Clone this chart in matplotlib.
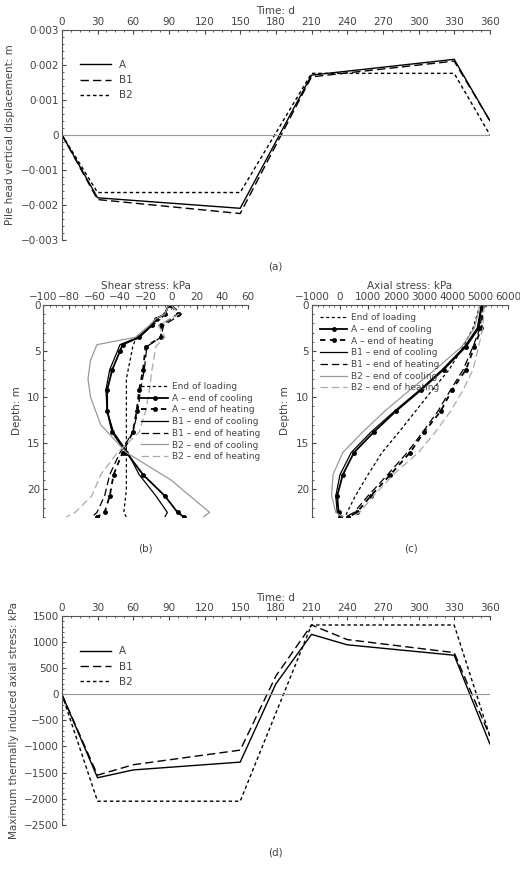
import matplotlib.pyplot as plt
import numpy as np

# ---- panel (a): pile head displacement ----
t_a = [0, 30, 150, 210, 330, 360]
disp_A = [0, -0.0018, -0.0021, 0.0017, 0.00215, 0.0004]
disp_B1 = [0, -0.00185, -0.00225, 0.00165, 0.0021, 0.0004]
disp_B2 = [0, -0.00165, -0.00165, 0.00175, 0.00175, 0.0]

# ---- panel (b): shear stress profiles ----
z_load = [0, 1, 1.5, 2.2, 3.8, 4.5, 8, 12, 16, 20, 22.5, 23]
sh_load = [-2, -5, -8, -15, -28, -30, -35, -35, -35, -35, -37, -35]
z_Ac = [0, 1, 1.5, 2.2, 3.5, 4.3, 5, 7, 9.2, 11.5, 13.8, 16, 18.4, 20.7, 22.5, 23]
sh_Ac = [-2, -5, -12, -15, -25, -38, -40, -46, -50, -50, -46, -35, -22, -5, 5, 10]
sh_B1c = [-2, -5, -12, -16, -26, -40, -42, -48, -51, -50, -45, -34, -25, -12, -3, -5]
z_B2c = [0, 1, 1.5, 2.2, 3.5, 4.3, 6, 8, 10, 13, 16, 19, 22.5, 23]
sh_B2c = [-2, -5, -12, -17, -28, -58, -63, -65, -63, -55, -35, 0, 30, 25]
z_Ah = [0, 1, 2.2, 3.5, 4.5, 7, 9.2, 11.5, 13.8, 16, 18.4, 20.7, 22.5, 23]
sh_Ah = [0, 5, -8, -8, -20, -22, -25, -27, -30, -38, -45, -48, -52, -58]
sh_B1h = [0, 8, -6, -8, -19, -21, -24, -26, -30, -40, -48, -52, -58, -62]
sh_B2h = [0, 6, -10, -5, -12, -15, -17, -20, -25, -42, -55, -62, -75, -82]

# ---- panel (c): axial stress profiles ----
z_c = [0, 2.5, 4.5, 7, 9.2, 11.5, 13.8, 16, 18.4, 20.7, 22.5, 23]
ax_load = [5000, 4750, 4400, 3900, 3300, 2700, 2100, 1500, 1000, 550, 250, 200]
ax_Ac = [5050, 4950, 4500, 3700, 2900, 2000, 1200, 500, 100, -100, -50, 0]
ax_B1c = [5050, 4900, 4450, 3650, 2850, 1950, 1100, 400, 0, -150, -100, 100]
ax_B2c = [5000, 4800, 4350, 3400, 2500, 1600, 800, 100, -250, -300, -150, 100]
ax_Ah = [5100, 5050, 4800, 4500, 4000, 3600, 3000, 2500, 1800, 1100, 600, 300]
ax_B1h = [5100, 5000, 4750, 4400, 3950, 3500, 2950, 2400, 1700, 1000, 500, 200]
ax_B2h = [5150, 5100, 4950, 4750, 4400, 3950, 3400, 2800, 1900, 1200, 700, 400]

# ---- panel (d): max thermally induced axial stress ----
t_d = [0, 30, 60, 150, 180, 210, 240, 330, 360]
sig_A = [0, -1600, -1450, -1300, 200, 1150, 950, 750, -950]
sig_B1 = [0, -1550, -1350, -1070, 350, 1330, 1050, 800, -800]
t_d2 = [0, 30, 150, 210, 330, 360]
sig_B2 = [0, -2050, -2050, 1330, 1330, -800]

plt.rcParams['font.size'] = 7.5
plt.rcParams['text.color'] = '#444444'
plt.rcParams['axes.labelcolor'] = '#444444'
plt.rcParams['xtick.color'] = '#444444'
plt.rcParams['ytick.color'] = '#444444'

fig = plt.figure(figsize=(5.2, 8.69), dpi=100)


def style(ax):
    ax.spines['right'].set_visible(False)
    ax.spines['bottom'].set_visible(False)
    ax.xaxis.tick_top()
    ax.xaxis.set_label_position('top')
    ax.tick_params(direction='in', length=3, pad=2)
    ax.tick_params(which='minor', direction='in', length=1.5)
    ax.minorticks_on()
    for s in ax.spines.values():
        s.set_color('#555555')


# (a)
ax = fig.add_axes([0.119, 0.724, 0.823, 0.242])
ax.plot(t_a, disp_A, 'k-', lw=1, label='A')
ax.plot(t_a, disp_B1, 'k--', lw=1, dashes=(6, 3), label='B1')
ax.plot(t_a, disp_B2, 'k--', lw=1, dashes=(2.5, 2), label='B2')
ax.axhline(0, color='#999999', lw=0.8)
ax.set_xlim(0, 360)
ax.set_ylim(-0.003, 0.003)
ax.set_xticks(np.arange(0, 361, 30))
ax.set_yticks(np.arange(-0.003, 0.0031, 0.001))
ax.set_yticklabels(['−0·003', '−0·002', '−0·001', '0', '0·001', '0·002', '0·003'])
ax.set_xlabel('Time: d', labelpad=2)
ax.set_ylabel('Pile head vertical displacement: m')
style(ax)
ax.legend(loc='upper left', bbox_to_anchor=(0.02, 0.9), frameon=False, handlelength=3)
fig.text(0.53, 0.69, '(a)', ha='center')

# (b)
ax = fig.add_axes([0.083, 0.405, 0.394, 0.244])
ax.plot(sh_load, z_load, 'k--', lw=0.9, dashes=(2.5, 2), label='End of loading')
ax.plot(sh_Ac, z_Ac, 'k-', lw=1.3, marker='o', ms=2.5, label='A – end of cooling')
ax.plot(sh_Ah, z_Ah, 'k--', lw=1.3, dashes=(3, 2.5), marker='o', ms=2.5, label='A – end of heating')
ax.plot(sh_B1c, z_Ac, 'k-', lw=0.9, label='B1 – end of cooling')
ax.plot(sh_B1h, z_Ah, 'k--', lw=0.9, dashes=(6, 3), label='B1 – end of heating')
ax.plot(sh_B2c, z_B2c, '-', color='#999999', lw=0.9, label='B2 – end of cooling')
ax.plot(sh_B2h, z_Ah, '--', color='#aaaaaa', lw=0.9, dashes=(6, 3), label='B2 – end of heating')
ax.set_xlim(-100, 60)
ax.set_ylim(23, 0)
ax.set_xticks(np.arange(-100, 61, 20))
ax.set_xticklabels(['−100', '−80', '−60', '−40', '−20', '0', '20', '40', '60'])
ax.set_yticks([0, 5, 10, 15, 20])
ax.set_xlabel('Shear stress: kPa', labelpad=2)
ax.set_ylabel('Depth: m')
style(ax)
ax.legend(loc='center right', bbox_to_anchor=(1.1, 0.45), frameon=False, fontsize=6.5,
          handlelength=3, labelspacing=0.3, handletextpad=0.4)
fig.text(0.28, 0.365, '(b)', ha='center')

# (c)
ax = fig.add_axes([0.6, 0.405, 0.377, 0.244])
ax.plot(ax_load, z_c, 'k--', lw=0.9, dashes=(2.5, 2), label='End of loading')
ax.plot(ax_Ac, z_c, 'k-', lw=1.3, marker='o', ms=2.5, label='A – end of cooling')
ax.plot(ax_Ah, z_c, 'k--', lw=1.3, dashes=(3, 2.5), marker='o', ms=2.5, label='A – end of heating')
ax.plot(ax_B1c, z_c, 'k-', lw=0.9, label='B1 – end of cooling')
ax.plot(ax_B1h, z_c, 'k--', lw=0.9, dashes=(6, 3), label='B1 – end of heating')
ax.plot(ax_B2c, z_c, '-', color='#999999', lw=0.9, label='B2 – end of cooling')
ax.plot(ax_B2h, z_c, '--', color='#aaaaaa', lw=0.9, dashes=(6, 3), label='B2 – end of heating')
ax.set_xlim(-1000, 6000)
ax.set_ylim(23, 0)
ax.set_xticks(np.arange(-1000, 6001, 1000))
ax.set_xticklabels(['−1000', '0', '1000', '2000', '3000', '4000', '5000', '6000'])
ax.set_yticks([0, 5, 10, 15, 20])
ax.set_xlabel('Axial stress: kPa', labelpad=2)
ax.set_ylabel('Depth: m')
style(ax)
ax.legend(loc='upper left', bbox_to_anchor=(0.0, 1.0), frameon=False, fontsize=6.5,
          handlelength=3, labelspacing=0.3, handletextpad=0.4)
fig.text(0.79, 0.365, '(c)', ha='center')

# (d)
ax = fig.add_axes([0.119, 0.051, 0.823, 0.24])
ax.plot(t_d, sig_A, 'k-', lw=1, label='A')
ax.plot(t_d, sig_B1, 'k--', lw=1, dashes=(6, 3), label='B1')
ax.plot(t_d2, sig_B2, 'k--', lw=1, dashes=(2.5, 2), label='B2')
ax.axhline(0, color='#999999', lw=0.8)
ax.set_xlim(0, 360)
ax.set_ylim(-2500, 1500)
ax.set_xticks(np.arange(0, 361, 30))
ax.set_yticks(np.arange(-2500, 1501, 500))
ax.set_yticklabels(['−2500', '−2000', '−1500', '−1000', '−500', '0', '500', '1000', '1500'])
ax.set_xlabel('Time: d', labelpad=2)
ax.set_ylabel('Maximum thermally induced axial stress: kPa')
style(ax)
ax.legend(loc='upper left', bbox_to_anchor=(0.02, 0.9), frameon=False, handlelength=3)
fig.text(0.53, 0.015, '(d)', ha='center')

fig.savefig('out.png', dpi=100)
